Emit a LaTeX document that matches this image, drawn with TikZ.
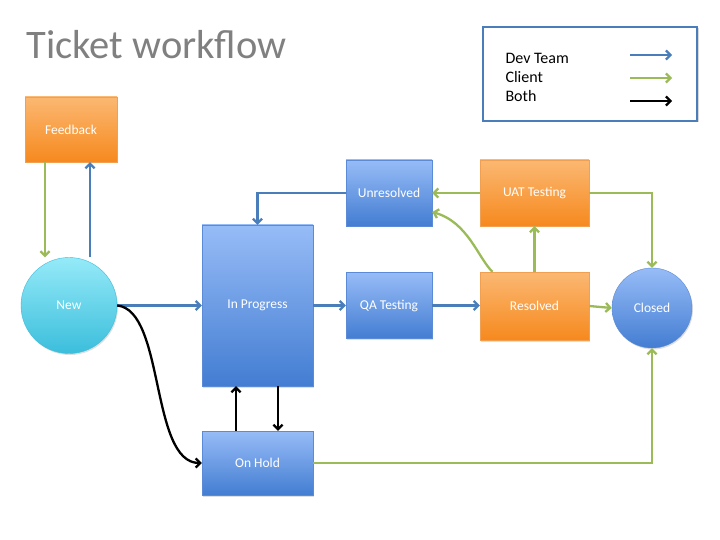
\documentclass[tikz,border=0pt]{standalone}
\usepackage{fontspec}
\setmainfont{Carlito}
\usetikzlibrary{arrows.meta,shadows}

\definecolor{devblue}{HTML}{4A7EBB}
\definecolor{clientgreen}{HTML}{9BBB59}
\definecolor{titlegray}{HTML}{808080}
\definecolor{boxtop}{HTML}{97BCF7}
\definecolor{boxbot}{HTML}{437DD2}
\definecolor{boxline}{HTML}{5B8BD6}
\definecolor{orangetop}{HTML}{FBB872}
\definecolor{orangebot}{HTML}{F6891E}
\definecolor{orangeline}{HTML}{F0A050}
\definecolor{cyantop}{HTML}{95EAF8}
\definecolor{cyanbot}{HTML}{3BBEDC}

\tikzset{
  flow/.style={line width=2.3pt, -{Straight Barb[length=4.5pt,width=9pt]}},
  dev/.style={flow, draw=devblue},
  client/.style={flow, draw=clientgreen},
  both/.style={flow, draw=black},
  state/.style={rectangle, inner sep=0pt, text=white, font=\fontsize{13.5}{15}\selectfont,
    drop shadow={shadow xshift=1pt, shadow yshift=-1.5pt, opacity=0.25}},
  devbox/.style={state, draw=boxline, top color=boxtop, bottom color=boxbot},
  clientbox/.style={state, draw=orangeline, top color=orangetop, bottom color=orangebot},
}

\begin{document}
\begin{tikzpicture}[x=1pt, y=-1pt]
  \useasboundingbox[fill=white] (0,0) rectangle (720,540);

  % Title
  \node[anchor=west, text=titlegray, font=\fontsize{40.5}{42}\selectfont] (title) at (23,45) {Ticket workflow};

  % Legend
  \draw[devblue, line width=2.5pt, drop shadow={shadow xshift=1.5pt, shadow yshift=-1.5pt, opacity=0.3}, fill=white]
    (483,27) rectangle (697,121);
  \node[anchor=west, font=\fontsize{16}{18}\selectfont] (legdev) at (502,58) {Dev Team};
  \node[anchor=west, font=\fontsize{16}{18}\selectfont] (legclient) at (502,77) {Client};
  \node[anchor=west, font=\fontsize{16}{18}\selectfont] (legboth) at (502,96) {Both};
  \draw[dev] (630,55) -- (672,55);
  \draw[client] (630,78) -- (672,78);
  \draw[both] (630,101) -- (672,101);

  % States
  \node[clientbox, minimum width=92, minimum height=65] (feedback) at (71,129.5) {Feedback};
  \node[state, circle, draw=cyanbot, top color=cyantop, bottom color=cyanbot, minimum size=96] (new) at (69,305.5) {New};
  \node[devbox, minimum width=111, minimum height=161] (inprog) at (257.5,305.5) {In Progress};
  \node[devbox, minimum width=111, minimum height=64] (onhold) at (257.5,463) {On Hold};
  \node[devbox, minimum width=86, minimum height=66] (qa) at (389,305.5) {QA Testing};
  \node[devbox, minimum width=86, minimum height=66] (unresolved) at (389,193) {Unresolved};
  \node[clientbox, minimum width=109, minimum height=66] (uat) at (534.5,193) {UAT Testing};
  \node[clientbox, minimum width=109, minimum height=68] (resolved) at (534.5,306) {Resolved};
  \node[devbox, circle, minimum size=80] (closed) at (652,308) {Closed};

  % Transitions
  \draw[client] ([xshift=-26]feedback.south) -- ([xshift=-26]feedback.south |- new.north);
  \draw[dev] ([xshift=21]new.north) -- ([xshift=21]new.north |- feedback.south);
  \draw[dev] (new.east) -- (inprog.west);
  \draw[both] (new.east) .. controls (165,310) and (150,463) .. (onhold.west);
  \draw[both] ([xshift=-21.5]onhold.north) -- ([xshift=-21.5]inprog.south);
  \draw[both] ([xshift=20.5]inprog.south) -- ([xshift=20.5]onhold.north);
  \draw[dev] (inprog.east) -- (inprog.east -| qa.west);
  \draw[dev] (qa.east) -- (qa.east -| resolved.west);
  \draw[client] (resolved.east) -- (closed.west);
  \draw[client] (resolved.north) -- (uat.south);
  \draw[client] ([xshift=-42]resolved.north) .. controls (478,258) and (468,222) .. ([yshift=-19]unresolved.east);
  \draw[client] (uat.west) -- (unresolved.east);
  \draw[client] (uat.east) -| (closed.north);
  \draw[client] (onhold.east) -| (closed.south);
  \draw[dev] (unresolved.west) -| (inprog.north);
\end{tikzpicture}
\end{document}
